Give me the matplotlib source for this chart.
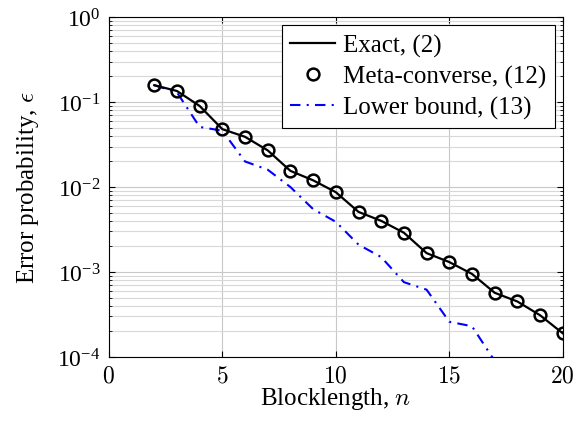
import numpy as np
import matplotlib
matplotlib.use("Agg")
import matplotlib.pyplot as plt
from matplotlib.ticker import LogLocator, NullFormatter

plt.rcParams['font.family'] = ['Liberation Serif', 'DejaVu Serif']
plt.rcParams['mathtext.fontset'] = 'cm'

# data
n = [2, 3, 4, 5, 6, 7, 8, 9, 10, 11, 12, 13, 14, 15, 16, 17, 18, 19, 20]
exact = [0.158, 0.135, 0.090, 0.048, 0.039, 0.027, 0.0155, 0.012, 0.0087, 0.0051,
         0.0040, 0.0029, 0.00167, 0.00131, 0.00095, 0.00057, 0.00045, 0.00031, 0.00019]
meta = exact
n_lb = [2, 3, 4, 5, 6, 7, 8, 9, 10, 11, 12, 13, 14, 15, 16, 17, 18]
lower = [0.158, 0.13, 0.051, 0.046, 0.020, 0.016, 0.010, 0.0055, 0.0039, 0.0021,
         0.0015, 0.00076, 0.00062, 0.00026, 0.00023, 0.00009, 0.00004]

fig = plt.figure(figsize=(5.76, 4.27), dpi=100)
ax = fig.add_axes([0.189, 0.1616, 0.788, 0.796])

ax.plot(n, exact, color='black', lw=1.6, label='Exact, (2)', zorder=3)
ax.plot(n, meta, 'o', mfc='none', mec='black', ms=8.5, mew=1.8, ls='none',
        label='Meta-converse, (12)', zorder=4)
ax.plot(n_lb, lower, color='blue', lw=1.5, ls=(0, (5, 3, 1, 3)), label='Lower bound, (13)', zorder=2)

ax.set_yscale('log')
ax.set_xlim(0, 20)
ax.set_ylim(1e-4, 1)
ax.set_xticks([0, 5, 10, 15, 20])
ax.set_xticklabels(['$0$', '$5$', '$10$', '$15$', '$20$'])
ax.yaxis.set_major_locator(LogLocator(base=10, numticks=10))
ax.yaxis.set_minor_locator(LogLocator(base=10, subs=np.arange(2, 10), numticks=10))
ax.yaxis.set_minor_formatter(NullFormatter())

ax.grid(True, which='major', color='#c8c8c8', lw=0.8)
ax.grid(True, which='minor', axis='y', color='#d8d8d8', lw=0.8)
ax.set_axisbelow(True)
ax.tick_params(which='both', direction='in', top=True, right=True, labelsize=17, pad=6)
ax.tick_params(which='major', length=4)
ax.tick_params(which='minor', length=2.5)
for s in ax.spines.values():
    s.set_linewidth(0.8)

ax.set_xlabel('Blocklength, $n$', fontsize=18, labelpad=-1)
ax.set_ylabel('Error probability, $\\epsilon$', fontsize=18, labelpad=12)

leg = ax.legend(loc='upper right', fontsize=18, fancybox=False, framealpha=1,
                edgecolor='black', handlelength=1.8, borderpad=0.35, labelspacing=0.32,
                handletextpad=0.3, borderaxespad=0.32)
leg.get_frame().set_linewidth(0.8)

fig.savefig('out.png', dpi=100)
